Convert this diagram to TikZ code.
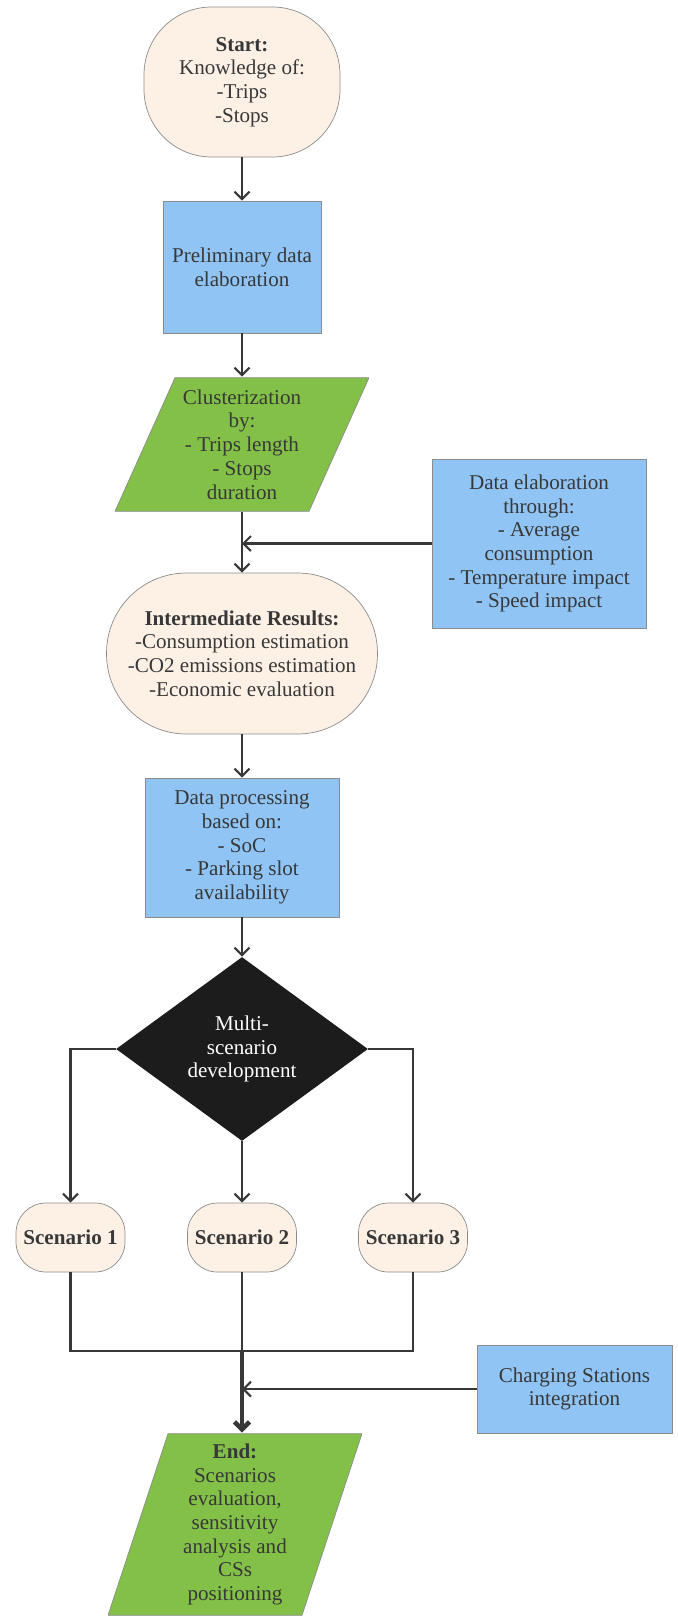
\documentclass[tikz,border=0pt]{standalone}
\usepackage{fontspec}
\setmainfont{Liberation Serif}
\usepackage{xcolor}
\usetikzlibrary{arrows.meta}
\usetikzlibrary{shapes.geometric}

\definecolor{peach}{HTML}{FDF1E6}
\definecolor{skyblue}{HTML}{8FC4F5}
\definecolor{leafgreen}{HTML}{83C047}
\definecolor{nightfill}{HTML}{1C1C1C}
\definecolor{ink}{HTML}{383838}
\definecolor{edgegray}{HTML}{8C8C8C}

\begin{document}
\begin{tikzpicture}[x=0.02cm, y=-0.02cm,
    every node/.style={font=\fontsize{12}{13.5}\selectfont, text=ink, align=center, inner sep=2pt},
    term/.style={draw=edgegray, fill=peach, rounded corners=#1},
    proc/.style={draw=edgegray, fill=skyblue},
    slanted/.style={inner sep=0pt, path picture={
        \draw[draw=edgegray, fill=leafgreen]
            ([xshift=1.2cm, yshift=-0.4pt]path picture bounding box.north west)
            -- ([yshift=-0.4pt]path picture bounding box.north east)
            -- ([xshift=-1.2cm, yshift=0.4pt]path picture bounding box.south east)
            -- ([yshift=0.4pt]path picture bounding box.south west) -- cycle;}},
    decision/.style={diamond, fill=nightfill, text=white, inner sep=0pt},
    line/.style={draw=ink, line width=1.2pt},
    arr/.style={line, -{Straight Barb[length=1.5mm, width=3mm]}}
]
    \fill[white] (0,0) rectangle (678,1616);
    \useasboundingbox (0,0) rectangle (678,1616);

    % Main column
    \node[term=1.35cm, minimum width=3.92cm, minimum height=3cm] (start) at (242,82)
        {\textbf{Start:}\\Knowledge of:\\-Trips\\-Stops};
    \node[proc, minimum width=3.16cm, minimum height=2.64cm] (prelim) at (242,267)
        {Preliminary data\\elaboration};
    \node[slanted, minimum width=5.08cm, minimum height=2.7cm] (clust) at (242,444.5)
        {Clusterization\\by:\\- Trips length\\- Stops\\duration};
    \node[proc, minimum width=4.28cm, minimum height=3.38cm] (elab) at (539,543.5)
        {Data elaboration\\through:\\- Average\\consumption\\- Temperature impact\\- Speed impact};
    \node[term=1.6cm, minimum width=5.42cm, minimum height=3.22cm] (inter) at (242,653.5)
        {\textbf{Intermediate Results:}\\-Consumption estimation\\-CO2 emissions estimation\\-Economic evaluation};
    \node[proc, minimum width=3.88cm, minimum height=2.78cm] (process) at (242,847.5)
        {Data processing\\based on:\\- SoC\\- Parking slot\\availability};
    \node[decision, minimum width=5.04cm, minimum height=3.68cm] (multi) at (242,1049)
        {Multi-\\scenario\\development};

    % Scenarios
    \foreach \n/\x in {1/70.5, 2/242, 3/413}{
        \node[term=0.6cm, minimum width=2.18cm, minimum height=1.38cm] (sc\n) at (\x,1237.5)
            {\textbf{Scenario \n}};
    }

    \node[proc, minimum width=3.9cm, minimum height=1.76cm] (charge) at (574.5,1389)
        {Charging Stations\\integration};
    \node[slanted, minimum width=5.08cm, minimum height=3.66cm] (final) at (235,1524.5)
        {\textbf{End:}\\Scenarios\\evaluation,\\sensitivity\\analysis and\\CSs\\positioning};

    \coordinate (join) at (242,1351);

    % Connectors
    \draw[arr] (start) -- (prelim);
    \draw[arr] (prelim) -- (clust);
    \draw[arr] (clust) -- (inter);
    \draw[arr] (elab.west) -- (elab.west -| clust.south);
    \draw[arr] (inter) -- (process);
    \draw[arr] (process) -- (multi);
    \draw[arr] (multi.west) -| (sc1.north);
    \draw[arr] (multi.east) -| (sc3.north);
    \draw[arr] (multi.south) -- (sc2.north);
    \draw[line] (sc1.south) |- (join);
    \draw[line] (sc3.south) |- (join);
    \draw[line] (sc2.south) -- (join);
    \draw[arr, line width=2.6pt] (join) -- (join |- final.north);
    \draw[arr] (charge.west) -- (charge.west -| join);
\end{tikzpicture}
\end{document}
